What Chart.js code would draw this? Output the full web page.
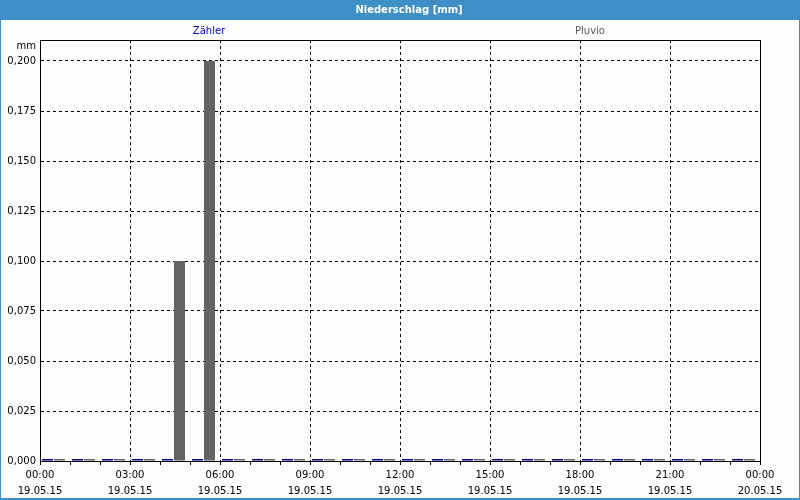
<!DOCTYPE html>
<html>
<head>
<meta charset="utf-8">
<title>Niederschlag [mm]</title>
<script src="https://cdn.jsdelivr.net/npm/chart.js@4/dist/chart.umd.min.js"></script>
<style>
    html, body { margin: 0; padding: 0; background: #fcfdfc; }
    #wrap { width: 800px; height: 500px; }
</style>
</head>
<body>
<div id="wrap"><canvas id="rain-chart" width="800" height="500"></canvas></div>
<script>
/* Niederschlag 19.05.15 - hourly sums, Zähler vs. Pluvio */

const CHART_TITLE = 'Niederschlag [mm]';
const Y_UNIT = 'mm';

// hour bins of the day (start of each hour)
const HOURS = [0, 1, 2, 3, 4, 5, 6, 7, 8, 9, 10, 11, 12, 13, 14, 15, 16, 17, 18, 19, 20, 21, 22, 23];

const SERIES_NAMES = ['Zähler', 'Pluvio'];
const ZAEHLER = [0, 0, 0, 0, 0, 0, 0, 0, 0, 0, 0, 0, 0, 0, 0, 0, 0, 0, 0, 0, 0, 0, 0, 0];
const PLUVIO = [0, 0, 0, 0, 0.1, 0.2, 0, 0, 0, 0, 0, 0, 0, 0, 0, 0, 0, 0, 0, 0, 0, 0, 0, 0];

// labelled x ticks (hours) and their two-line text
const X_TICK_HOURS = [0, 3, 6, 9, 12, 15, 18, 21, 24];
const X_TICK_LABELS = [
    ['00:00', '19.05.15'], ['03:00', '19.05.15'], ['06:00', '19.05.15'],
    ['09:00', '19.05.15'], ['12:00', '19.05.15'], ['15:00', '19.05.15'],
    ['18:00', '19.05.15'], ['21:00', '19.05.15'], ['00:00', '20.05.15'],
];

const BAR_COLORS = ['#000088', '#646264'];
const NAME_COLORS = ['#0000d0', '#5a5a5a'];
const FRAME_BLUE = '#3d8fc6';
const FONT = "'DejaVu Sans', sans-serif";

Chart.defaults.font.family = FONT;
Chart.defaults.font.size = 10;
Chart.defaults.color = '#000';

// Background, title bar, series names, unit label and plot box
const framePlugin = {
    id: 'frame',
    beforeDraw(chart) {
        const { ctx, width, height } = chart;
        ctx.save();
        ctx.fillStyle = '#fcfdfc';
        ctx.fillRect(0, 0, width, height);

        ctx.fillStyle = FRAME_BLUE;
        ctx.fillRect(0, 0, width, 20);
        ctx.fillRect(0, 0, 1, height);
        ctx.fillRect(width - 1, 0, 1, height);
        ctx.fillRect(0, height - 2, width, 2);

        ctx.textAlign = 'center';
        ctx.textBaseline = 'middle';
        ctx.fillStyle = '#fff';
        ctx.font = `bold 10px ${FONT}`;
        ctx.fillText(CHART_TITLE, 409, 10);

        ctx.font = `10px ${FONT}`;
        const nameX = [209, 590];
        chart.data.datasets.forEach((ds, i) => {
            ctx.fillStyle = NAME_COLORS[i];
            ctx.fillText(ds.label, nameX[i], 31);
        });

        ctx.textAlign = 'right';
        ctx.fillStyle = '#000';
        ctx.fillText(Y_UNIT, 36, 46);
        ctx.restore();
    },
    afterDraw(chart) {
        const { ctx, chartArea: a } = chart;
        ctx.save();
        ctx.strokeStyle = '#000';
        ctx.lineWidth = 1;
        ctx.beginPath();
        ctx.moveTo(Math.round(a.left) + 0.5, Math.round(a.top) + 0.5);
        ctx.lineTo(Math.round(a.right) + 0.5, Math.round(a.top) + 0.5);
        ctx.lineTo(Math.round(a.right) + 0.5, Math.round(a.bottom) + 0.5);
        ctx.stroke();
        ctx.restore();
    }
};

// bars sit slightly left of the hour-bin centre, like the original
function makeSeries(values, i) {
    return {
        label: SERIES_NAMES[i],
        data: HOURS.map((h, k) => ({ x: h + 0.45, y: values[k] })),
        backgroundColor: BAR_COLORS[i],
        borderWidth: 0,
        minBarLength: 2,
        clip: 0,
        categoryPercentage: 0.8,
        barPercentage: 11 / 12,
    };
}

new Chart(document.getElementById('rain-chart'), {
    type: 'bar',
    data: {
        datasets: [makeSeries(ZAEHLER, 0), makeSeries(PLUVIO, 1)]
    },
    options: {
        responsive: false,
        animation: false,
        layout: { padding: { left: 1, right: 40, top: 40, bottom: 2 } },
        plugins: {
            legend: { display: false },
            title: { display: false },
            tooltip: { enabled: false }
        },
        scales: {
            x: {
                type: 'linear',
                min: 0,
                max: 24,
                bounds: 'data',
                offset: false,
                z: 1,
                grid: {
                    offset: false,
                    color: c => (c.tick && c.tick.value % 3 === 0) ? '#000' : 'rgba(0,0,0,0)',
                    tickColor: '#000',
                    tickLength: 4,
                },
                border: { color: '#000', dash: [3, 3] },
                ticks: {
                    stepSize: 1,
                    autoSkip: false,
                    maxRotation: 0,
                    padding: 2,
                    font: { size: 10, lineHeight: 1.6 },
                    callback: v => {
                        const i = X_TICK_HOURS.indexOf(v);
                        return i >= 0 ? X_TICK_LABELS[i] : '';
                    }
                },
                afterFit: s => { s.height = 37; }
            },
            y: {
                min: 0,
                max: 0.2105,
                bounds: 'data',
                z: 1,
                grid: { color: '#000', drawTicks: false },
                border: { color: '#000', dash: [3, 3] },
                ticks: {
                    stepSize: 0.025,
                    includeBounds: false,
                    padding: 4,
                    callback: v => v.toFixed(3).replace('.', ',')
                },
                afterFit: s => { s.width = 39; }
            }
        }
    },
    plugins: [framePlugin]
});
</script>
</body>
</html>
